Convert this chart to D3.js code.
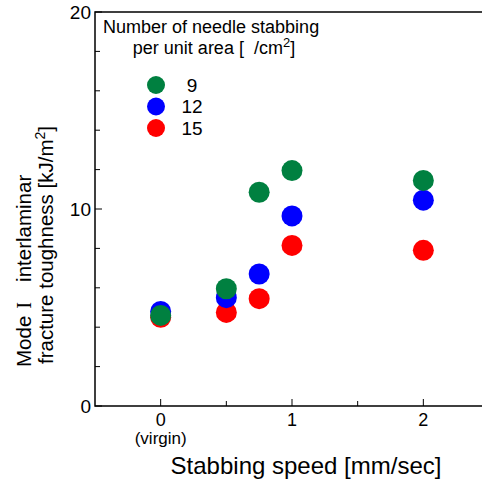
<!DOCTYPE html>
<html>
<head>
<meta charset="utf-8">
<script src="https://cdn.jsdelivr.net/npm/d3@7"></script>
<style>
  body { margin: 0; background: #fff; }
  text { font-family: "Liberation Sans", Arial, sans-serif; fill: #000; }
</style>
</head>
<body>
<div id="chart"></div>
<script>
// stabbing speed [mm/sec], 0 = virgin
var speeds = [0, 0.5, 0.75, 1, 2];
// toughness per needle count
var n9 = [4.6, 5.95, 10.85, 11.95, 11.45];
var n12 = [4.8, 5.5, 6.7, 9.65, 10.45];
var n15 = [4.5, 4.75, 5.45, 8.15, 7.9];

var seriesNames = ["9", "12", "15"];
var seriesColors = ["#008040", "#0000ff", "#ff0000"];
var xTickLabels = ["0", "1", "2"];
var yTickLabels = ["0", "10", "20"];

var W = 482, H = 483;
var margin = { top: 12, left: 95, bottom: 77 };

var svg = d3.select("#chart").append("svg")
    .attr("width", W)
    .attr("height", H);

var x = d3.scaleLinear().domain([-0.5, 2.5]).range([margin.left, 489]);
var y = d3.scaleLinear().domain([0, 20]).range([H - margin.bottom, margin.top]);

// frame (left, top, bottom) - right side runs off the page
svg.append("path")
    .attr("d", "M" + x(2.5) + "," + y(20) + "H" + x(-0.5) + "V" + y(0) + "H" + x(2.5))
    .attr("fill", "none")
    .attr("stroke", "#000")
    .attr("stroke-width", 1.5);

// x ticks (inside)
var xAxis = svg.append("g").attr("transform", "translate(0," + y(0) + ")");
xAxis.selectAll("line")
    .data([0, 0.5, 1, 1.5, 2])
    .enter().append("line")
    .attr("x1", function(d) { return x(d); })
    .attr("x2", function(d) { return x(d); })
    .attr("y1", 0)
    .attr("y2", function(d) { return d % 1 === 0 ? -7 : -5; })
    .attr("stroke", "#000");
xAxis.selectAll("text")
    .data(xTickLabels)
    .enter().append("text")
    .attr("x", function(d) { return x(+d); })
    .attr("y", 20)
    .attr("text-anchor", "middle")
    .style("font-size", "18px")
    .text(function(d) { return d; });
svg.append("text")
    .attr("x", x(0))
    .attr("y", 444)
    .attr("text-anchor", "middle")
    .style("font-size", "17px")
    .text("(virgin)");
svg.append("text")
    .attr("x", 306)
    .attr("y", 474)
    .attr("text-anchor", "middle")
    .style("font-size", "24px")
    .text("Stabbing speed [mm/sec]");

// y ticks (inside)
var yAxis = svg.append("g").attr("transform", "translate(" + x(-0.5) + ",0)");
yAxis.selectAll("line")
    .data(d3.range(0, 21, 2))
    .enter().append("line")
    .attr("y1", function(d) { return y(d); })
    .attr("y2", function(d) { return y(d); })
    .attr("x1", 0)
    .attr("x2", function(d) { return d % 10 === 0 ? 7 : 5; })
    .attr("stroke", "#000");
yAxis.selectAll("text")
    .data(yTickLabels)
    .enter().append("text")
    .attr("x", -4)
    .attr("y", function(d) { return y(+d); })
    .attr("dy", "0.35em")
    .attr("text-anchor", "end")
    .style("font-size", "19px")
    .text(function(d) { return d; });

// y label, two lines
var yl = svg.append("text")
    .attr("transform", "translate(31,367) rotate(-90)")
    .attr("text-anchor", "start")
    .style("font-size", "20.5px");
yl.append("tspan").text("Mode");
yl.append("tspan").attr("dx", 7).style("font-family", "'Liberation Serif', serif").text("I");
yl.append("tspan").attr("dx", 20).text("interlaminar");
var yl2 = svg.append("text")
    .attr("transform", "translate(53,364) rotate(-90)")
    .attr("text-anchor", "start")
    .style("font-size", "20.5px");
yl2.append("tspan").text("fracture toughness [kJ/m");
yl2.append("tspan").attr("dy", -8).style("font-size", "14px").text("2");
yl2.append("tspan").attr("dy", 8).text("]");

// points: draw 15 first, 9 on top
var groups = [
    { name: "15", values: n15, color: seriesColors[2] },
    { name: "12", values: n12, color: seriesColors[1] },
    { name: "9", values: n9, color: seriesColors[0] }
];
svg.selectAll("g.series")
    .data(groups)
    .enter().append("g")
    .attr("class", "series")
    .attr("fill", function(d) { return d.color; })
    .selectAll("circle")
    .data(function(d) { return d.values.map(function(v, i) { return { x: speeds[i], y: v }; }); })
    .enter().append("circle")
    .attr("cx", function(d) { return x(d.x); })
    .attr("cy", function(d) { return y(d.y); })
    .attr("r", 10.5);

// legend
svg.append("text")
    .attr("x", 103)
    .attr("y", 33)
    .style("font-size", "18px")
    .text("Number of needle stabbing");
var lt = svg.append("text")
    .attr("x", 214)
    .attr("y", 54)
    .attr("text-anchor", "middle")
    .style("font-size", "18px")
    .style("white-space", "pre");
lt.append("tspan").text("per unit area [  /cm");
lt.append("tspan").attr("dy", -7).style("font-size", "13px").text("2");
lt.append("tspan").attr("dy", 7).text("]");

var lg = svg.selectAll("g.leg")
    .data(seriesNames)
    .enter().append("g")
    .attr("class", "leg")
    .attr("transform", function(d, i) { return "translate(0," + (85 + i * 21.5) + ")"; });
lg.append("circle")
    .attr("cx", 156)
    .attr("r", 9)
    .attr("fill", function(d, i) { return seriesColors[i]; });
lg.append("text")
    .attr("x", 192)
    .attr("dy", "0.35em")
    .attr("text-anchor", "middle")
    .style("font-size", "19px")
    .text(function(d) { return d; });
</script>
</body>
</html>
